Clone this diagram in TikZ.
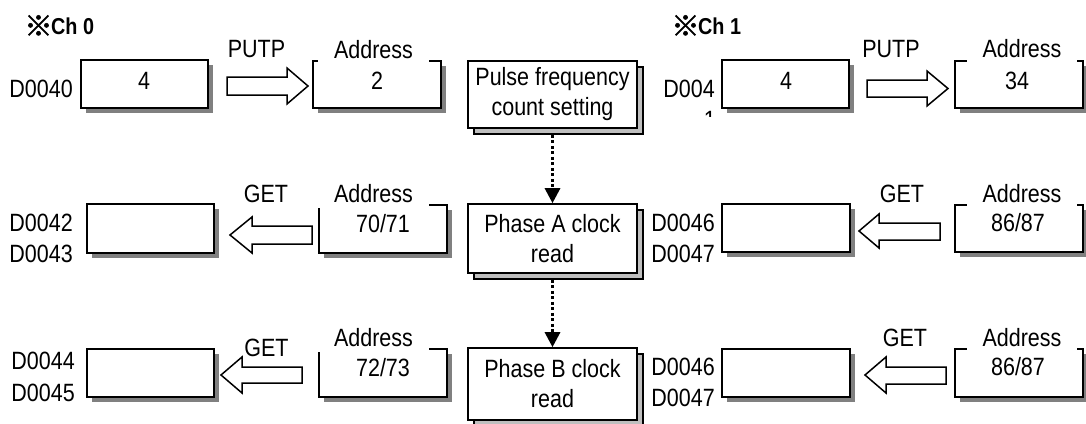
\documentclass[tikz,border=0pt]{standalone}
\usepackage{fontspec}
\setmainfont[FakeStretch=0.86]{Liberation Sans}
\newfontfamily\cjk[FakeBold=2]{Noto Sans CJK KR}
\usetikzlibrary{arrows.meta,shadows,calc}
\begin{document}
\begin{tikzpicture}[x=1pt,y=-1pt,
  font=\fontsize{25pt}{30pt}\selectfont,
  vbox/.style={draw, line width=1.8pt, fill=white, inner sep=0pt,
    minimum width=128pt, minimum height=48pt,
    drop shadow={shadow xshift=5pt, shadow yshift=-5pt, fill=black!50, opacity=1}},
  mbox/.style={draw, line width=1.6pt, fill=white, inner sep=0pt,
    minimum width=169pt, align=center,
    general shadow={shadow xshift=6pt, shadow yshift=-6pt, fill=black!25, draw=black, line width=1.6pt}},
  txt/.style={inner sep=0pt, anchor=base},
  lbl/.style={inner sep=0pt, anchor=base east},
  refmark/.style={inner sep=0pt, anchor=base, font=\cjk\fontsize{28pt}{30pt}\selectfont},
  chtitle/.style={inner sep=0pt, anchor=base west, font=\bfseries\fontsize{23pt}{26pt}\selectfont},
  addr/.style={fill=white, inner xsep=16pt, inner ysep=0pt, text height=18pt, text depth=5.5pt, anchor=base},
  blk/.style={draw, line width=1.5pt, fill=white, line join=miter},
  dotarrow/.style={line width=3pt, dash pattern=on 3pt off 2.5pt, -{Triangle[width=15pt,length=15pt]}}
]
\useasboundingbox (0,0) rectangle (1086,423);

% ---------- titles
\node[refmark] (rm0) at (38.5,36) {※};
\node[chtitle] (ch0) at (51,34.6) {Ch 0};
\node[refmark] (rm1) at (685.5,36) {※};
\node[chtitle] (ch1) at (698,34.6) {Ch 1};

% ---------- left column boxes
\node[vbox, minimum width=127pt] (lv1) at (144.5,84) {};
\node[vbox, minimum width=127pt, minimum height=49pt] (lv2) at (150.5,228.5) {};
\node[vbox, minimum width=127pt] (lv3) at (150.5,373) {};
\node[vbox, minimum height=47pt] (la1) at (377,84.5) {};
\node[vbox] (la2) at (383,229) {};
\node[vbox] (la3) at (383,373) {};

% ---------- right column boxes
\node[vbox, minimum width=127pt] (rv1) at (785.5,84) {};
\node[vbox] (rv2) at (786,228) {};
\node[vbox] (rv3) at (786,373) {};
\node[vbox, minimum height=47pt] (ra1) at (1019,84.5) {};
\node[vbox, minimum height=47pt] (ra2) at (1019,228.5) {};
\node[vbox] (ra3) at (1019,373) {};

% ---------- middle boxes
\node[mbox, minimum height=67pt] (pulse) at (552.5,94.5) {Pulse frequency\\count setting};
\node[mbox, minimum height=69pt] (pha) at (552.5,238.5) {Phase A clock\\read};
\node[mbox, minimum height=72pt] (phb) at (552.5,384) {Phase B clock\\read};

\draw[dotarrow] ([yshift=-6pt]pulse.south) -- (pha.north);
\draw[dotarrow] ([yshift=-6pt]pha.south) -- (phb.north);

% ---------- Address labels
\node[addr] (adl1) at (373.5,58) {Address};
\node[addr] (adl2) at (373.5,202) {Address};
\node[addr] (adl3) at (373.5,346) {Address};
\node[addr] (adr1) at (1022,57) {Address};
\node[addr] (adr2) at (1022,202) {Address};
\node[addr] (adr3) at (1022,346) {Address};

% ---------- values
\node[txt] (vl1) at (144,89) {4};
\node[txt] (vla1) at (377,89) {2};
\node[txt] (vla2) at (383,232) {70/71};
\node[txt] (vla3) at (383,376) {72/73};
\node[txt] (vr1) at (786,89) {4};
\node[txt] (vra1) at (1017,89) {34};
\node[txt] (vra2) at (1018,231) {86/87};
\node[txt] (vra3) at (1018,375) {86/87};

% ---------- D labels
\node[lbl] (d40) at (73,97) {D0040};
\node[lbl] (d42) at (73,231) {D0042};
\node[lbl] (d43) at (73,262) {D0043};
\node[lbl] (d44) at (75,369) {D0044};
\node[lbl] (d45) at (75,401) {D0045};
\node[lbl] (d41a) at (715,97) {D004};
\begin{scope}
  \clip (690,100) rectangle (720,116);
  \node[lbl] (d41b) at (716,128) {1};
\end{scope}
\node[lbl] (d46a) at (715,231) {D0046};
\node[lbl] (d47a) at (715,262) {D0047};
\node[lbl] (d46b) at (715,375) {D0046};
\node[lbl] (d47b) at (715,406) {D0047};

% ---------- PUTP / GET labels
\node[txt] (putl) at (256.5,57) {PUTP};
\node[txt] (putr) at (891,57) {PUTP};
\node[txt] (getl2) at (266,202) {GET};
\node[txt] (getl3) at (266.5,356) {GET};
\node[txt] (getr2) at (902,202) {GET};
\node[txt] (getr3) at (905,346) {GET};

% ---------- block arrows
\draw[blk] (227,77) -- (287,77) -- (287,68) -- (308,86) -- (287,104) -- (287,95) -- (227,95) -- cycle;
\draw[blk] (867,80) -- (927,80) -- (927,71) -- (948,88.5) -- (927,106) -- (927,97) -- (867,97) -- cycle;
\draw[blk] (312,226) -- (252,226) -- (252,217) -- (230,235) -- (252,253) -- (252,244) -- (312,244) -- cycle;
\draw[blk] (302,367) -- (242,367) -- (242,357) -- (221,375) -- (242,393) -- (242,383) -- (302,383) -- cycle;
\draw[blk] (940,223) -- (879,223) -- (879,214) -- (859,231) -- (879,248) -- (879,240) -- (940,240) -- cycle;
\draw[blk] (946,367) -- (886,367) -- (886,357) -- (865,375) -- (886,393) -- (886,384) -- (946,384) -- cycle;
\end{tikzpicture}
\end{document}
